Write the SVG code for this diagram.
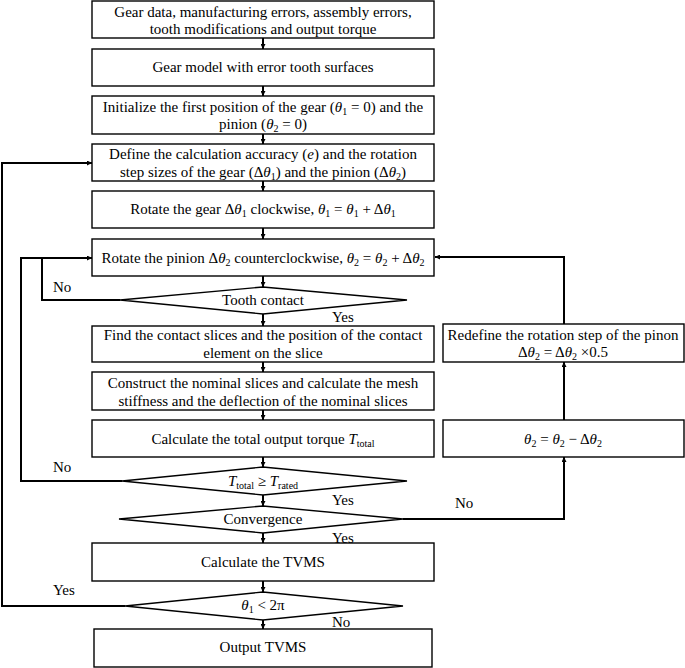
<svg xmlns="http://www.w3.org/2000/svg" width="685" height="668" viewBox="0 0 685 668" font-family="Liberation Serif">
<style>
.box{fill:#fff;stroke:#000;stroke-width:1.4}
.c{fill:none;stroke:#000;stroke-width:2}
text{font-family:'Liberation Serif',serif;font-size:15px;fill:#000;text-anchor:middle}
.l{text-anchor:start}
.i{font-style:italic}
.s{font-size:10px}
</style>
<defs>
<marker id="ah" viewBox="0 0 10 10" refX="10" refY="5" markerWidth="5" markerHeight="5" orient="auto" markerUnits="userSpaceOnUse">
<path d="M0,0 L10,5 L0,10 z" fill="#000"/>
</marker>
</defs>
<rect width="685" height="668" fill="#fff"/>

<g id="connectors">
<line class="c" x1="263" y1="38" x2="263" y2="49" marker-end="url(#ah)"/>
<line class="c" x1="263" y1="86" x2="263" y2="96" marker-end="url(#ah)"/>
<line class="c" x1="263" y1="134" x2="263" y2="144" marker-end="url(#ah)"/>
<line class="c" x1="263" y1="181" x2="263" y2="191" marker-end="url(#ah)"/>
<line class="c" x1="263" y1="228" x2="263" y2="239" marker-end="url(#ah)"/>
<line class="c" x1="263" y1="276" x2="263" y2="287" marker-end="url(#ah)"/>
<line class="c" x1="263" y1="314" x2="263" y2="326" marker-end="url(#ah)"/>
<line class="c" x1="263" y1="362" x2="263" y2="372" marker-end="url(#ah)"/>
<line class="c" x1="263" y1="410" x2="263" y2="420" marker-end="url(#ah)"/>
<line class="c" x1="263" y1="457" x2="263" y2="467" marker-end="url(#ah)"/>
<line class="c" x1="263" y1="495" x2="263" y2="506" marker-end="url(#ah)"/>
<line class="c" x1="263" y1="533" x2="263" y2="543" marker-end="url(#ah)"/>
<line class="c" x1="263" y1="581" x2="263" y2="592" marker-end="url(#ah)"/>
<line class="c" x1="263" y1="620" x2="263" y2="629" marker-end="url(#ah)"/>
<polyline class="c" points="120,300 42,300 42,258 92,258" marker-end="url(#ah)"/>
<polyline class="c" points="122,481 21,481 21,258 42,258"/>
<polyline class="c" points="125,606 2,606 2,163 92,163" marker-end="url(#ah)"/>
<polyline class="c" points="403,519 564,519 564,457" marker-end="url(#ah)"/>
<line class="c" x1="564" y1="420" x2="564" y2="362" marker-end="url(#ah)"/>
<polyline class="c" points="564,324 564,257 435,257" marker-end="url(#ah)"/>
</g>

<g id="n1"><rect class="box" x="92" y="1" width="342" height="37"/>
<text x="263" y="17">Gear data, manufacturing errors, assembly errors,</text>
<text x="263" y="34">tooth modifications and output torque</text></g>

<g id="n2"><rect class="box" x="92" y="49" width="342" height="37"/>
<text x="263" y="72">Gear model with error tooth surfaces</text></g>

<g id="n3"><rect class="box" x="92" y="96" width="342" height="38"/>
<text x="263" y="112">Initialize the first position of the gear (<tspan class="i">θ</tspan><tspan class="s" dy="3">1</tspan><tspan dy="-3"> = 0) and the</tspan></text>
<text x="263" y="129">pinion (<tspan class="i">θ</tspan><tspan class="s" dy="3">2</tspan><tspan dy="-3"> = 0)</tspan></text></g>

<g id="n4"><rect class="box" x="92" y="144" width="342" height="37"/>
<text x="263" y="159">Define the calculation accuracy (<tspan class="i">e</tspan>) and the rotation</text>
<text x="263" y="177">step sizes of the gear (Δ<tspan class="i">θ</tspan><tspan class="s" dy="3">1</tspan><tspan dy="-3">) and the pinion (Δ</tspan><tspan class="i">θ</tspan><tspan class="s" dy="3">2</tspan><tspan dy="-3">)</tspan></text></g>

<g id="n5"><rect class="box" x="92" y="191" width="342" height="37"/>
<text x="263" y="214">Rotate the gear Δ<tspan class="i">θ</tspan><tspan class="s" dy="3">1</tspan><tspan dy="-3"> clockwise, </tspan><tspan class="i">θ</tspan><tspan class="s" dy="3">1</tspan><tspan dy="-3"> = </tspan><tspan class="i">θ</tspan><tspan class="s" dy="3">1</tspan><tspan dy="-3"> + Δ</tspan><tspan class="i">θ</tspan><tspan class="s" dy="3">1</tspan></text></g>

<g id="n6"><rect class="box" x="92" y="239" width="342" height="37"/>
<text x="263" y="263">Rotate the pinion Δ<tspan class="i">θ</tspan><tspan class="s" dy="3">2</tspan><tspan dy="-3"> counterclockwise, </tspan><tspan class="i">θ</tspan><tspan class="s" dy="3">2</tspan><tspan dy="-3"> = </tspan><tspan class="i">θ</tspan><tspan class="s" dy="3">2</tspan><tspan dy="-3"> + Δ</tspan><tspan class="i">θ</tspan><tspan class="s" dy="3">2</tspan></text></g>

<g id="d1"><polygon class="box" points="120,300 263,287 407,300 263,314"/>
<text x="263" y="305">Tooth contact</text></g>

<g id="n7"><rect class="box" x="92" y="326" width="342" height="36"/>
<text x="263" y="340">Find the contact slices and the position of the contact</text>
<text x="263" y="358">element on the slice</text></g>

<g id="n8"><rect class="box" x="92" y="372" width="342" height="38"/>
<text x="263" y="388">Construct the nominal slices and calculate the mesh</text>
<text x="263" y="406">stiffness and the deflection of the nominal slices</text></g>

<g id="n9"><rect class="box" x="92" y="420" width="342" height="37"/>
<text x="263" y="444">Calculate the total output torque <tspan class="i">T</tspan><tspan class="s" dy="3">total</tspan></text></g>

<g id="d2"><polygon class="box" points="122,481 263,467 407,481 263,495"/>
<text x="263" y="486"><tspan class="i">T</tspan><tspan class="s" dy="3">total</tspan><tspan dy="-3"> ≥ </tspan><tspan class="i">T</tspan><tspan class="s" dy="3">rated</tspan></text></g>

<g id="d3"><polygon class="box" points="119,519 263,506 403,519 263,533"/>
<text x="263" y="524">Convergence</text></g>

<g id="n10"><rect class="box" x="92" y="543" width="342" height="38"/>
<text x="263" y="567">Calculate the TVMS</text></g>

<g id="d4"><polygon class="box" points="125,606 263,592 403,606 263,620"/>
<text x="263" y="610"><tspan class="i">θ</tspan><tspan class="s" dy="3">1</tspan><tspan dy="-3">  &lt; 2π</tspan></text></g>

<g id="n11"><rect class="box" x="94" y="629" width="338" height="38"/>
<text x="263" y="652">Output TVMS</text></g>

<g id="n12"><rect class="box" x="443" y="324" width="241" height="38"/>
<text x="563" y="340">Redefine the rotation step of the pinon</text>
<text x="563" y="357">Δ<tspan class="i">θ</tspan><tspan class="s" dy="3">2</tspan><tspan dy="-3"> = Δ</tspan><tspan class="i">θ</tspan><tspan class="s" dy="3">2</tspan><tspan dy="-3"> ×0.5</tspan></text></g>

<g id="n13"><rect class="box" x="443" y="420" width="241" height="37"/>
<text x="563" y="444"><tspan class="i">θ</tspan><tspan class="s" dy="3">2</tspan><tspan dy="-3"> = </tspan><tspan class="i">θ</tspan><tspan class="s" dy="3">2</tspan><tspan dy="-3"> − Δ</tspan><tspan class="i">θ</tspan><tspan class="s" dy="3">2</tspan></text></g>

<g id="labels">
<text class="l" x="53" y="292">No</text>
<text class="l" x="332" y="322">Yes</text>
<text class="l" x="53" y="472">No</text>
<text class="l" x="332" y="505">Yes</text>
<text class="l" x="455" y="508">No</text>
<text class="l" x="332" y="543">Yes</text>
<text class="l" x="53" y="595">Yes</text>
<text class="l" x="332" y="627">No</text>
</g>
</svg>
